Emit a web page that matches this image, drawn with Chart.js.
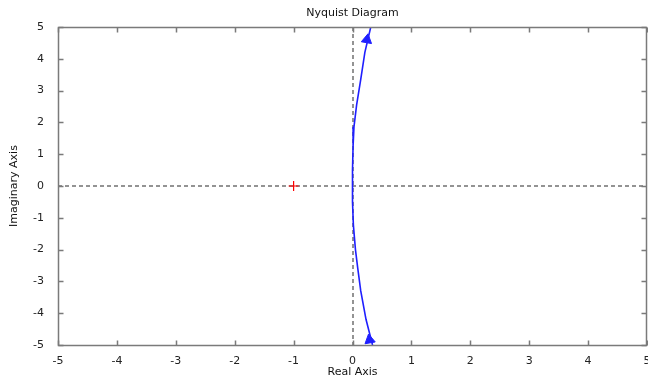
<!DOCTYPE html>
<html>
<head>
<meta charset="utf-8">
<script src="https://cdn.jsdelivr.net/npm/chart.js@4.4.1/dist/chart.umd.min.js"></script>
<style>
  html, body { margin: 0; padding: 0; background: #fff; overflow: hidden; }
  #wrap { width: 648px; height: 382px; overflow: hidden; }
</style>
</head>
<body>
<div id="wrap"><canvas id="nyq" width="654" height="382"></canvas></div>
<script>
// Nyquist curve (top to bottom)
var curveImag = [5, 4.6, 4.2, 3.35, 2.55, 1.86, 1.26, 0.5, 0, -0.5, -1.23, -2.0, -2.6, -3.3, -4.2, -5];
var curveReal = [0.31, 0.26, 0.21, 0.14, 0.07, 0.025, 0.01, 0.0, 0.0, 0.0, 0.015, 0.05, 0.09, 0.14, 0.23, 0.34];

// direction arrows
var arrowReal = [0.245, 0.29];
var arrowImag = [4.6, -4.84];
var arrowRot = [10, -10];

// critical point
var critReal = [-1];
var critImag = [0];

var xTicks = [-5, -4, -3, -2, -1, 0, 1, 2, 3, 4, 5];
var yTicks = [-5, -4, -3, -2, -1, 0, 1, 2, 3, 4, 5];

var titleText = 'Nyquist Diagram';
var xLabel = 'Real Axis';
var yLabel = 'Imaginary Axis';

var FONT = 'DejaVu Sans';
var AXIS_COLOR = '#7a7a7a';

function toPts(xs, ys) {
    return xs.map(function (x, i) { return { x: x, y: ys[i] }; });
}

// dashed zero lines, under the curve
var zeroLines = {
    id: 'zeroLines',
    beforeDatasetsDraw: function (chart) {
        var ctx = chart.ctx, a = chart.chartArea;
        var x0 = chart.scales.x.getPixelForValue(0);
        var y0 = chart.scales.y.getPixelForValue(0);
        ctx.save();
        ctx.strokeStyle = '#707070';
        ctx.lineWidth = 1.5;
        ctx.setLineDash([4, 3]);
        ctx.beginPath();
        ctx.moveTo(a.left, Math.round(y0));
        ctx.lineTo(a.right, Math.round(y0));
        ctx.moveTo(Math.round(x0), a.top);
        ctx.lineTo(Math.round(x0), a.bottom);
        ctx.stroke();
        ctx.restore();
    }
};

// box round the plot with ticks pointing inward, and the title
var frame = {
    id: 'frame',
    afterDraw: function (chart) {
        var ctx = chart.ctx, a = chart.chartArea;
        var sx = chart.scales.x, sy = chart.scales.y;
        var L = Math.round(a.left) + 0.5, R = Math.round(a.right) - 0.5;
        var T = Math.round(a.top) + 0.5, B = Math.round(a.bottom) + 0.5;
        ctx.save();
        ctx.strokeStyle = AXIS_COLOR;
        ctx.lineWidth = 1.5;
        ctx.setLineDash([]);
        ctx.strokeRect(L, T, R - L, B - T);
        ctx.beginPath();
        xTicks.forEach(function (v) {
            var px = Math.round(sx.getPixelForValue(v)) + 0.5;
            ctx.moveTo(px, T); ctx.lineTo(px, T + 5);
            ctx.moveTo(px, B); ctx.lineTo(px, B - 5);
        });
        yTicks.forEach(function (v) {
            var py = Math.round(sy.getPixelForValue(v)) + 0.5;
            ctx.moveTo(L, py); ctx.lineTo(L + 5, py);
            ctx.moveTo(R, py); ctx.lineTo(R - 5, py);
        });
        ctx.stroke();

        ctx.fillStyle = '#111';
        ctx.font = '11px "' + FONT + '"';
        ctx.textAlign = 'center';
        ctx.textBaseline = 'middle';
        ctx.fillText(titleText, (a.left + a.right) / 2, 13);
        ctx.restore();
    }
};

new Chart(document.getElementById('nyq'), {
    type: 'scatter',
    data: {
        datasets: [{
            data: toPts(curveReal, curveImag),
            showLine: true,
            borderColor: '#1f1fff',
            borderWidth: 1.6,
            pointRadius: 0,
            tension: 0,
            clip: 0
        }, {
            data: toPts(arrowReal, arrowImag),
            showLine: false,
            pointStyle: 'triangle',
            pointRotation: arrowRot,
            pointRadius: 6,
            backgroundColor: '#1f1fff',
            borderColor: '#1f1fff',
            borderWidth: 1,
            clip: 0
        }, {
            data: toPts(critReal, critImag),
            showLine: false,
            pointStyle: 'cross',
            pointRadius: 5,
            borderColor: '#ff0000',
            borderWidth: 1.2
        }]
    },
    options: {
        responsive: false,
        animation: false,
        events: [],
        layout: { padding: { top: 27, right: 0, left: 0, bottom: 0 } },
        plugins: {
            legend: { display: false },
            tooltip: { enabled: false },
            title: { display: false }
        },
        scales: {
            x: {
                type: 'linear',
                min: -5, max: 5,
                afterBuildTicks: function (s) { s.ticks = xTicks.map(function (v) { return { value: v }; }); },
                afterFit: function (s) { s.height = 37; },
                grid: { display: false },
                border: { display: false },
                ticks: {
                    color: '#222',
                    font: { family: FONT, size: 11 },
                    padding: 2,
                    maxRotation: 0,
                    autoSkip: false
                },
                title: {
                    display: true,
                    text: xLabel,
                    color: '#111',
                    font: { family: FONT, size: 11 },
                    padding: { top: 0, bottom: 3 }
                }
            },
            y: {
                type: 'linear',
                min: -5, max: 5,
                afterBuildTicks: function (s) { s.ticks = yTicks.map(function (v) { return { value: v }; }); },
                afterFit: function (s) { s.width = 58; },
                grid: { display: false },
                border: { display: false },
                ticks: {
                    color: '#222',
                    font: { family: FONT, size: 11 },
                    padding: 6,
                    autoSkip: false
                },
                title: {
                    display: true,
                    text: yLabel,
                    color: '#111',
                    font: { family: FONT, size: 11 },
                    padding: { top: 8, bottom: 0 }
                }
            }
        }
    },
    plugins: [zeroLines, frame]
});
</script>
</body>
</html>
